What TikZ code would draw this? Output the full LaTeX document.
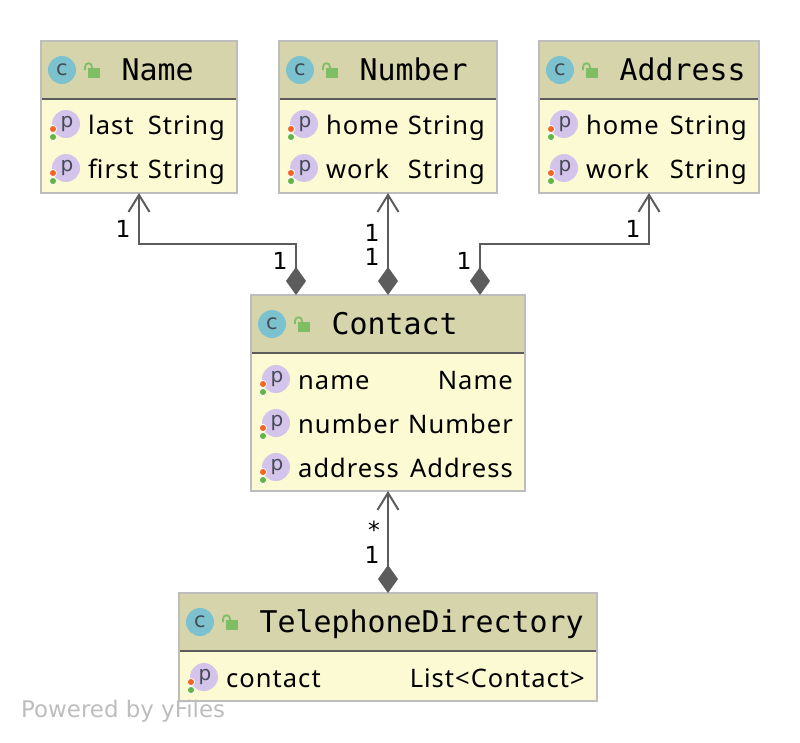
\documentclass[tikz,border=0pt]{standalone}
\usepackage{fontspec}
\setmainfont{Noto Sans}
\setmonofont{DejaVu Sans Mono}
\newfontfamily\labelfont{DejaVu Sans}
\newfontfamily\fieldfont[LetterSpace=4]{Noto Sans}
\usetikzlibrary{arrows.meta,positioning}
\definecolor{headfill}{HTML}{D6D4AA}
\definecolor{bodyfill}{HTML}{FCFAD3}
\definecolor{boxline}{HTML}{BDBDBD}
\definecolor{edgeline}{HTML}{5C5C5C}
\definecolor{iconteal}{HTML}{7CC2CE}
\definecolor{iconpurple}{HTML}{D4C3EA}
\definecolor{iconglyph}{HTML}{454A55}
\definecolor{lockgreen}{HTML}{80BE66}
\definecolor{dotorange}{HTML}{F26522}
\definecolor{dotgreen}{HTML}{62B543}
\tikzset{
	classbox/.style={rectangle,fill=bodyfill,outer sep=0pt,inner sep=0pt},
	headbox/.style={rectangle,fill=headfill,outer sep=0pt,inner sep=0pt},
	boxborder/.style={draw=boxline,line width=2pt},
	divider/.style={draw=edgeline,line width=2pt},
	titletext/.style={font=\ttfamily\fontsize{29.9}{32}\selectfont,text=black,inner sep=0pt},
	fieldtext/.style={font=\fieldfont\fontsize{25.5}{28}\selectfont,text=black,inner sep=0pt},
	multi/.style={font=\labelfont\fontsize{23.5}{25}\selectfont,text=black,inner sep=0pt},
	owned/.style={edgeline,line width=2pt,
		{Straight Barb[length=17pt,width=21pt,line width=2pt]}-{Diamond[length=28pt,width=20pt]}},
	pics/classicon/.style={code={
		\fill[iconteal] (0,0) circle (14pt);
		\node[font=\labelfont\fontsize{21}{22}\selectfont,text=iconglyph,inner sep=0pt] (-glyph) at (0,0) {c};
		\fill[lockgreen] (26,-2) rectangle (38,8);
		\draw[lockgreen,line width=1.8pt] (23,0) -- (23,-3) .. controls (23,-8) and (30,-8) .. (30,-3) -- (30,-1);
	}},
	pics/fieldicon/.style={code={
		\fill[iconpurple] (0,0) circle (14pt);
		\node[font=\labelfont\fontsize{20}{22}\selectfont,text=iconglyph,inner sep=0pt] (-glyph) at (1,0) {p};
		\filldraw[fill=dotorange,draw=white,line width=.8pt] (-13,5) circle (3.6pt);
		\filldraw[fill=dotgreen,draw=white,line width=.8pt] (-13,13) circle (3.6pt);
	}},
}
\begin{document}
\begin{tikzpicture}[x=1pt,y=-1pt]
	\useasboundingbox (0,0) rectangle (800,742);
	% class boxes with their header bands
	\foreach \Cls/\Left/\Top/\Right/\Bottom in
	{Name/41/41/237/193,Number/279/41/497/193,Address/539/41/759/193,
	Contact/251/295/525/491,TelephoneDirectory/179/593/597/701}
	{
		\node[classbox,minimum width={(\Right-\Left)*1pt},minimum height={(\Bottom-\Top)*1pt}]
			(\Cls) at ({(\Left+\Right)/2},{(\Top+\Bottom)/2}) {};
		\node[headbox,anchor=north west,minimum width={(\Right-\Left)*1pt},minimum height=58pt]
			(\Cls-head) at (\Cls.north west) {};
		\draw[divider] (\Cls-head.south west) -- (\Cls-head.south east);
		\draw[boxborder] (\Cls.north west) rectangle (\Cls.south east);
		\pic (\Cls-icon) at ([xshift=21pt]\Cls-head.west) {classicon};
		\node[titletext,anchor=base west] (\Cls-title) at ([xshift=80.5pt,yshift=-10pt]\Cls-head.west) {\Cls};
	}
	% one row per field
	\foreach \Cls/\Y/\Field/\Type in
	{Name/124/last/String,Name/168/first/String,
	Number/124/home/String,Number/168/work/String,
	Address/124/home/String,Address/168/work/String,
	Contact/379/name/Name,Contact/423/number/Number,Contact/467/address/Address,
	TelephoneDirectory/677/contact/List<Contact>}
	{
		\pic (\Cls-\Field-icon) at ([xshift=25pt]\Cls.west |- 0,\Y) {fieldicon};
		\node[fieldtext,anchor=base west] (\Cls-\Field) at ([xshift=47pt,yshift=-10pt]\Cls.west |- 0,\Y) {\Field};
		\node[fieldtext,anchor=base east] (\Cls-\Field-type) at ([xshift=-12pt,yshift=-10pt]\Cls.east |- 0,\Y) {\Type};
	}
	\coordinate (Contact-left) at ([xshift=-92pt]Contact.north);
	\coordinate (Contact-right) at ([xshift=92pt]Contact.north);
	% connectors
	\draw[owned] (Name.south) -- ++(0,51) -| (Contact-left);
	\draw[owned] (Number.south) -- (Contact.north);
	\draw[owned] (Address.south) -- ++(0,51) -| (Contact-right);
	\draw[owned] (Contact.south) -- (TelephoneDirectory.north);
	% multiplicities
	\foreach \Id/\X/\Y/\Txt in
	{a/123/229/1,b/280/261/1,c/372/233/1,d/372/257/1,e/633/229/1,f/464/261/1,g/374/530/*,h/372/555/1}
	{\node[multi] (multi-\Id) at (\X,\Y) {\Txt};}
	\node[anchor=base west,inner sep=0pt,text=boxline,font=\labelfont\fontsize{22.9}{24}\selectfont] (powered) at (21,717) {Powered by yFiles};
\end{tikzpicture}
\end{document}
